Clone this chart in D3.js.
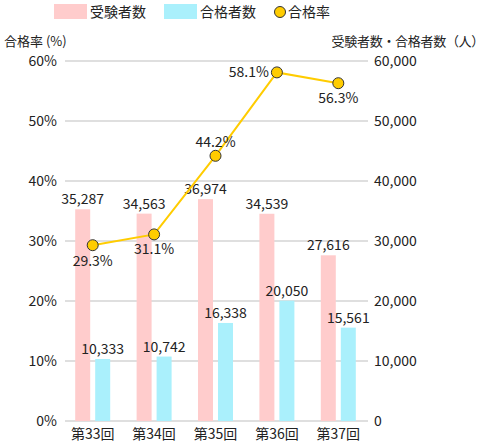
<!DOCTYPE html>
<html>
<head>
<meta charset="utf-8">
<script src="https://cdn.jsdelivr.net/npm/d3@7"></script>
<style>
  body { margin: 0; background: #fff; }
  text { font-family: "Noto Sans CJK JP", "Noto Sans", sans-serif; fill: #222; }
</style>
</head>
<body>
<svg></svg>
<script>
// chart data
var rounds = ["第33回", "第34回", "第35回", "第36回", "第37回"];
var examinees = [35287, 34563, 36974, 34539, 27616];
var passers = [10333, 10742, 16338, 20050, 15561];
var passRate = [29.3, 31.1, 44.2, 58.1, 56.3];
var rateTicks = [0, 10, 20, 30, 40, 50, 60];
var countTicks = [0, 10000, 20000, 30000, 40000, 50000, 60000];

var width = 487, height = 447;
var margin = {left: 65, right: 119, top: 61, bottom: 26};

var svg = d3.select("svg")
    .attr("width", width)
    .attr("height", height);

// scales
var xScale = d3.scaleBand()
    .domain(rounds)
    .range([62, 369]);

var yRate = d3.scaleLinear()
    .domain([0, 60])
    .range([height - margin.bottom, margin.top]);

var yCount = d3.scaleLinear()
    .domain([0, 60000])
    .range([height - margin.bottom, margin.top]);

var fmt = d3.format(",");
var barW = 15, gap = 2.5;

// gridlines
svg.append("g")
    .selectAll("line")
    .data(rateTicks)
    .enter()
    .append("line")
    .attr("x1", margin.left)
    .attr("x2", width - margin.right)
    .attr("y1", function(d){return yRate(d)})
    .attr("y2", function(d){return yRate(d)})
    .style("stroke", "#d4d4d4")
    .style("stroke-width", 1.5);

// left axis
var leftAxis = d3.axisLeft(yRate)
    .tickValues(rateTicks)
    .tickSize(0)
    .tickPadding(0)
    .tickFormat(function(d){return d + "%"});
var gl = svg.append("g")
    .attr("transform", "translate(57,0)")
    .call(leftAxis);
gl.select(".domain").remove();
gl.selectAll("text").style("font-size", "14px").style("font-family", null).attr("fill", "#222");

// right axis
var rightAxis = d3.axisRight(yCount)
    .tickValues(countTicks)
    .tickSize(0)
    .tickPadding(0)
    .tickFormat(fmt);
var gr = svg.append("g")
    .attr("transform", "translate(374,0)")
    .call(rightAxis);
gr.select(".domain").remove();
gr.selectAll("text").style("font-size", "14px").style("font-family", null).attr("fill", "#222");

// bars: examinees
svg.append("g")
    .selectAll("rect")
    .data(examinees)
    .enter()
    .append("rect")
    .attr("x", function(d, i){return xScale(rounds[i]) + xScale.bandwidth() / 2 - gap - barW})
    .attr("y", function(d){return yCount(d)})
    .attr("width", barW)
    .attr("height", function(d){return yCount(0) - yCount(d)})
    .style("fill", "#ffcccc");

// bars: passers
svg.append("g")
    .selectAll("rect")
    .data(passers)
    .enter()
    .append("rect")
    .attr("x", function(d, i){return xScale(rounds[i]) + xScale.bandwidth() / 2 + gap})
    .attr("y", function(d){return yCount(d)})
    .attr("width", barW)
    .attr("height", function(d){return yCount(0) - yCount(d)})
    .style("fill", "#aaf0fc");

// bar labels
svg.append("g")
    .selectAll("text")
    .data(examinees)
    .enter()
    .append("text")
    .attr("x", function(d, i){return xScale(rounds[i]) + xScale.bandwidth() / 2 - gap - barW / 2})
    .attr("y", function(d){return yCount(d) - 5})
    .attr("text-anchor", "middle")
    .style("font-size", "14px")
    .text(fmt);

svg.append("g")
    .selectAll("text")
    .data(passers)
    .enter()
    .append("text")
    .attr("x", function(d, i){return xScale(rounds[i]) + xScale.bandwidth() / 2 + gap + barW / 2})
    .attr("y", function(d){return yCount(d) - 5})
    .attr("text-anchor", "middle")
    .style("font-size", "14px")
    .text(fmt);

// x-axis labels
var bottomAxis = d3.axisBottom(xScale)
    .tickSize(0)
    .tickPadding(0);
var gb = svg.append("g")
    .attr("transform", "translate(0," + (height - margin.bottom + 8) + ")")
    .call(bottomAxis);
gb.select(".domain").remove();
gb.selectAll("text").style("font-size", "14px").style("font-family", null).attr("fill", "#222");

// pass-rate line
var cx = function(d, i){return xScale(rounds[i]) + xScale.bandwidth() / 2};
var rateLine = d3.line()
    .x(cx)
    .y(function(d){return yRate(d)});

svg.append("path")
    .datum(passRate)
    .attr("d", rateLine)
    .style("fill", "none")
    .style("stroke", "#ffcc00")
    .style("stroke-width", 2);

svg.append("g")
    .selectAll("circle")
    .data(passRate)
    .enter()
    .append("circle")
    .attr("cx", cx)
    .attr("cy", function(d){return yRate(d)})
    .attr("r", 5.5)
    .style("fill", "#ffcc00")
    .style("stroke", "#333")
    .style("stroke-width", 1);

// rate labels (hand placed offsets)
var labelPos = [
    {dx: 0, dy: 21, anchor: "middle"},
    {dx: 0, dy: 20, anchor: "middle"},
    {dx: 0, dy: -9, anchor: "middle"},
    {dx: -8, dy: 5, anchor: "end"},
    {dx: 0, dy: 20, anchor: "middle"}
];
svg.append("g")
    .selectAll("text")
    .data(passRate)
    .enter()
    .append("text")
    .attr("x", function(d, i){return cx(d, i) + labelPos[i].dx})
    .attr("y", function(d, i){return yRate(d) + labelPos[i].dy})
    .attr("text-anchor", function(d, i){return labelPos[i].anchor})
    .style("font-size", "14px")
    .text(function(d){return d.toFixed(1) + "%"});

// axis titles
svg.append("text")
    .attr("x", 4)
    .attr("y", 46)
    .style("font-size", "13px")
    .text("合格率 (%)");

svg.append("text")
    .attr("x", 484)
    .attr("y", 46)
    .attr("text-anchor", "end")
    .style("font-size", "13px")
    .style("letter-spacing", "-0.3px")
    .text("受験者数・合格者数（人）");

// legend
var legend = svg.append("g").attr("id", "legend");
legend.append("rect").attr("x", 54).attr("y", 4).attr("width", 33).attr("height", 15).style("fill", "#ffcccc");
legend.append("text").attr("x", 90).attr("y", 17).style("font-size", "14px").text("受験者数");
legend.append("rect").attr("x", 164).attr("y", 4).attr("width", 33).attr("height", 15).style("fill", "#aaf0fc");
legend.append("text").attr("x", 200).attr("y", 17).style("font-size", "14px").text("合格者数");
legend.append("circle").attr("cx", 280).attr("cy", 12).attr("r", 5.5)
    .style("fill", "#ffcc00").style("stroke", "#333").style("stroke-width", 1);
legend.append("text").attr("x", 288).attr("y", 17).style("font-size", "14px").text("合格率");
</script>
</body>
</html>
